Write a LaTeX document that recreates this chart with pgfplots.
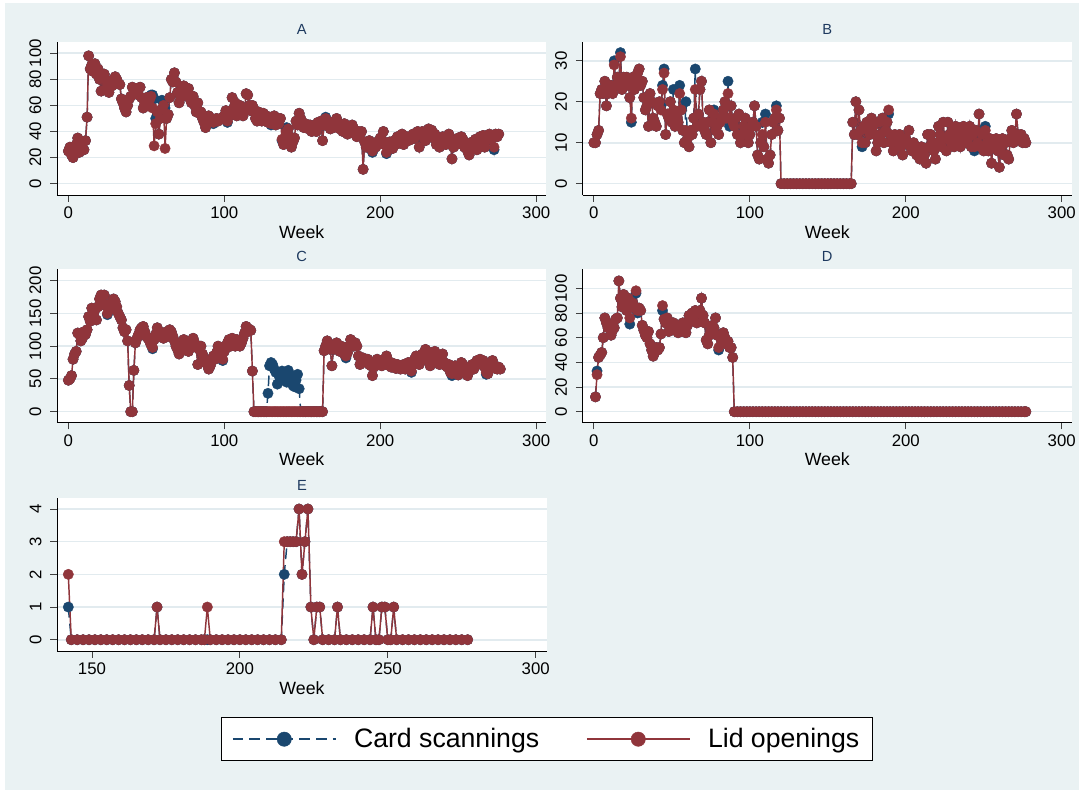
\documentclass[border=0pt]{standalone}
\usepackage{pgfplots}
\pgfplotsset{compat=1.18}
\usepackage{pgfplotstable}
\usepackage{fontspec}
\setmainfont{Liberation Sans}
\definecolor{bgc}{RGB}{234,242,243}
\definecolor{gridc}{RGB}{226,235,239}
\definecolor{navyc}{RGB}{26,71,111}
\definecolor{maroonc}{RGB}{144,53,59}
\definecolor{titc}{RGB}{30,58,95}
\pgfplotsset{
 panel/.style={
  scale only axis, width=367.1pt, height=115.1pt,
  axis x line=bottom, axis y line=left,
  axis line style={-, line width=0.7pt, black},
  tick align=outside, major tick length=5pt,
  tick style={line width=0.7pt, black!75},
  ymajorgrids, grid style={line width=1.2pt, gridc},
  axis background/.style={fill=white},
  ticklabel style={font=\fontsize{12.6}{14}\selectfont},
  yticklabel style={rotate=90, anchor=south, inner sep=0pt},
  xticklabel style={anchor=north, inner sep=0pt},
  xticklabel shift=3.5pt, yticklabel shift=6.5pt,
  /pgf/number format/assume math mode=true,
  scaled ticks=false,
  xlabel={Week},
  xlabel style={font=\fontsize{13.3}{15}\selectfont, at={(axis description cs:0.5,0)}, anchor=center, yshift=-27.5pt},
  every axis title shift=0pt,
  title style={font=\fontsize{11}{13}\selectfont, text=titc, at={(axis description cs:0.5,1)}, anchor=center, yshift=9.3pt},
  xmin=-7.3, xmax=306.6, xtick={0,100,200,300},
 },
 card/.style={navyc, line width=1.1pt, dash pattern=on 8pt off 4.5pt, mark=*, mark size=3.9pt, mark options={solid, fill=navyc, draw=navyc, line width=0.3pt}},
 lid/.style={maroonc, line width=1.1pt, solid, mark=*, mark size=3.9pt, mark options={solid, fill=maroonc, draw=maroonc, line width=0.3pt}},
}
% Panel A: week, card scannings, lid openings
\pgfplotstableread[row sep=\\]{w c l\\
0 25 25\\ 1 28 28\\ 2 22 22\\ 3 20 20\\ 4 27 27\\ 5 30 30\\ 6 35 35\\ 7 24 24\\ 8 28 28\\ 9 32 32\\
10 26 26\\ 11 33 33\\ 12 51 51\\ 13 98 98\\ 14 88 88\\ 15 91 91\\ 16 86 86\\ 17 92 92\\ 18 84 84\\ 19 88 88\\
20 80 80\\ 21 71 71\\ 22 82 82\\ 23 84 84\\ 24 72 72\\ 25 76 76\\ 26 70 70\\ 27 79 79\\ 28 75 75\\ 29 78 78\\
30 82 82\\ 31 80 80\\ 32 77 77\\ 33 76 76\\ 34 65 65\\ 35 62 62\\ 36 58 58\\ 37 55 55\\ 38 60 60\\ 39 65 65\\
40 67 67\\ 41 74 74\\ 42 72 72\\ 43 70 70\\ 44 73 73\\ 45 68 68\\ 46 74 74\\ 47 66 66\\ 48 58 58\\ 49 62 62\\
50 66 66\\ 51 60 60\\ 52 64 64\\ 53 68 67\\ 54 68 58\\ 55 65 29\\ 56 50 46\\ 57 55 55\\ 58 38 38\\ 59 50 50\\
60 64 57\\ 61 63 60\\ 62 58 27\\ 63 50 50\\ 64 53 53\\ 65 66 66\\ 66 80 80\\ 67 78 78\\ 68 85 85\\ 69 78 78\\
70 70 70\\ 71 62 62\\ 72 66 66\\ 73 73 73\\ 74 75 75\\ 75 70 70\\ 76 68 68\\ 77 73 73\\ 78 65 65\\ 79 62 62\\
80 67 67\\ 81 60 60\\ 82 55 55\\ 83 62 62\\ 84 54 54\\ 85 55 55\\ 86 50 50\\ 87 47 47\\ 88 43 43\\ 89 46 46\\
90 52 52\\ 91 48 48\\ 92 50 50\\ 93 46 47\\ 94 49 49\\ 95 50 50\\ 96 48 48\\ 97 49 49\\ 98 50 50\\ 99 51 51\\
100 52 52\\ 101 56 56\\ 102 47 48\\ 103 52 52\\ 104 55 55\\ 105 66 66\\ 106 58 58\\ 107 62 62\\ 108 52 52\\ 109 56 56\\
110 60 60\\ 111 55 55\\ 112 52 52\\ 113 58 58\\ 114 69 69\\ 115 68 68\\ 116 60 60\\ 117 56 56\\ 118 60 60\\ 119 57 57\\
120 50 50\\ 121 48 48\\ 122 55 55\\ 123 52 52\\ 124 48 48\\ 125 54 54\\ 126 50 50\\ 127 52 52\\ 128 47 47\\ 129 50 50\\
130 45 46\\ 131 48 48\\ 132 52 52\\ 133 45 45\\ 134 50 50\\ 135 46 46\\ 136 50 50\\ 137 33 34\\ 138 30 30\\ 139 35 35\\
140 43 40\\ 141 42 42\\ 142 36 36\\ 143 28 28\\ 144 32 32\\ 145 35 35\\ 146 48 48\\ 147 45 45\\ 148 54 54\\ 149 50 50\\
150 45 45\\ 151 43 43\\ 152 46 46\\ 153 44 44\\ 154 42 42\\ 155 45 45\\ 156 40 40\\ 157 42 42\\ 158 45 45\\ 159 40 40\\
160 47 47\\ 161 44 44\\ 162 48 48\\ 163 33 33\\ 164 45 45\\ 165 51 50\\ 166 46 46\\ 167 44 44\\ 168 42 42\\ 169 47 47\\
170 43 43\\ 171 46 46\\ 172 50 50\\ 173 45 45\\ 174 42 42\\ 175 44 44\\ 176 40 40\\ 177 46 46\\ 178 42 42\\ 179 38 38\\
180 44 44\\ 181 40 40\\ 182 45 45\\ 183 42 42\\ 184 38 38\\ 185 36 36\\ 186 40 40\\ 187 38 38\\ 188 40 40\\ 189 11 11\\
190 32 32\\ 191 28 28\\ 192 30 30\\ 193 33 33\\ 194 28 28\\ 195 24 25\\ 196 30 30\\ 197 28 28\\ 198 32 32\\ 199 30 30\\
200 35 35\\ 201 34 34\\ 202 40 40\\ 203 30 30\\ 204 23 24\\ 205 28 28\\ 206 32 32\\ 207 30 30\\ 208 27 27\\ 209 33 33\\
210 30 30\\ 211 36 36\\ 212 32 32\\ 213 35 35\\ 214 38 38\\ 215 30 30\\ 216 34 34\\ 217 36 36\\ 218 33 33\\ 219 36 36\\
220 34 34\\ 221 38 38\\ 222 35 35\\ 223 37 37\\ 224 40 40\\ 225 28 28\\ 226 38 38\\ 227 40 40\\ 228 35 35\\ 229 33 33\\
230 38 38\\ 231 42 42\\ 232 38 38\\ 233 41 41\\ 234 35 35\\ 235 38 38\\ 236 30 30\\ 237 33 33\\ 238 28 28\\ 239 34 34\\
240 36 36\\ 241 32 32\\ 242 30 30\\ 243 36 36\\ 244 38 38\\ 245 30 30\\ 246 19 19\\ 247 28 28\\ 248 33 33\\ 249 30 30\\
250 35 35\\ 251 32 32\\ 252 36 36\\ 253 34 34\\ 254 28 28\\ 255 30 30\\ 256 25 25\\ 257 22 22\\ 258 30 30\\ 259 32 32\\
260 28 28\\ 261 34 34\\ 262 26 26\\ 263 28 28\\ 264 36 36\\ 265 30 30\\ 266 37 37\\ 267 28 28\\ 268 33 33\\ 269 36 36\\
270 38 38\\ 271 34 34\\ 272 37 37\\ 273 26 28\\ 274 38 38\\ 275 36 36\\ 276 38 38\\
}\tA
% Panel B
\pgfplotstableread[row sep=\\]{w c l\\
0 10 10\\ 1 10 10\\ 2 12 12\\ 3 13 13\\ 4 22 22\\ 5 23 23\\ 6 22 22\\ 7 25 25\\ 8 19 19\\ 9 22 22\\
10 23 23\\ 11 24 24\\ 12 22 22\\ 13 30 29\\ 14 24 24\\ 15 26 26\\ 16 25 25\\ 17 32 31\\ 18 23 23\\ 19 26 26\\
20 25 25\\ 21 26 26\\ 22 24 24\\ 23 21 21\\ 24 15 16\\ 25 26 26\\ 26 23 23\\ 27 25 25\\ 28 27 27\\ 29 28 28\\
30 24 24\\ 31 25 25\\ 32 21 21\\ 33 18 18\\ 34 19 19\\ 35 14 14\\ 36 22 22\\ 37 20 20\\ 38 16 16\\ 39 15 15\\
40 14 14\\ 41 19 19\\ 42 20 20\\ 43 19 18\\ 44 24 23\\ 45 28 27\\ 46 12 12\\ 47 17 17\\ 48 16 16\\ 49 20 20\\
50 15 15\\ 51 23 18\\ 52 14 14\\ 53 17 17\\ 54 15 15\\ 55 24 22\\ 56 18 18\\ 57 13 13\\ 58 10 10\\ 59 20 13\\
60 11 11\\ 61 9 9\\ 62 13 13\\ 63 12 12\\ 64 16 16\\ 65 28 23\\ 66 14 14\\ 67 17 17\\ 68 23 23\\ 69 25 25\\
70 15 15\\ 71 13 13\\ 72 12 12\\ 73 15 15\\ 74 18 18\\ 75 10 10\\ 76 15 15\\ 77 18 17\\ 78 13 13\\ 79 14 14\\
80 12 12\\ 81 15 15\\ 82 16 16\\ 83 18 18\\ 84 20 20\\ 85 16 16\\ 86 25 22\\ 87 14 16\\ 88 19 19\\ 89 15 15\\
90 14 14\\ 91 16 16\\ 92 12 12\\ 93 17 17\\ 94 10 10\\ 95 12 12\\ 96 14 14\\ 97 16 16\\ 98 12 12\\ 99 10 10\\
100 12 12\\ 101 14 14\\ 102 15 15\\ 103 19 19\\ 104 14 14\\ 105 7 7\\ 106 6 6\\ 107 10 10\\ 108 15 12\\ 109 9 9\\
110 17 15\\ 111 6 6\\ 112 5 5\\ 113 7 7\\ 114 12 12\\ 115 15 15\\ 116 16 16\\ 117 19 18\\ 118 13 13\\ 119 16 16\\
120 0 0\\ 122 0 0\\ 124 0 0\\ 126 0 0\\ 128 0 0\\ 130 0 0\\ 132 0 0\\ 134 0 0\\ 136 0 0\\ 138 0 0\\
140 0 0\\ 142 0 0\\ 144 0 0\\ 146 0 0\\ 148 0 0\\ 150 0 0\\ 152 0 0\\ 154 0 0\\ 156 0 0\\ 158 0 0\\
160 0 0\\ 162 0 0\\ 164 0 0\\ 165 0 0\\
166 15 15\\ 167 12 12\\ 168 20 20\\ 169 12 12\\ 170 18 18\\ 171 13 13\\ 172 9 10\\ 173 14 14\\ 174 10 10\\ 175 15 15\\
176 13 13\\ 177 12 12\\ 178 16 16\\ 179 14 14\\ 180 12 12\\ 181 8 8\\ 182 10 10\\ 183 15 15\\ 184 12 12\\ 185 16 16\\
186 10 10\\ 187 13 13\\ 188 15 15\\ 189 17 18\\ 190 12 12\\ 191 10 10\\ 192 8 8\\ 193 12 12\\ 194 11 11\\ 195 10 10\\
196 12 12\\ 197 9 9\\ 198 7 7\\ 199 10 10\\
200 11 11\\ 201 10 10\\ 202 13 13\\ 203 9 9\\ 204 8 8\\ 205 10 10\\ 206 9 9\\ 207 7 7\\ 208 8 8\\ 209 6 6\\
210 9 9\\ 211 8 8\\ 212 7 7\\ 213 5 5\\ 214 12 12\\ 215 9 9\\ 216 12 12\\ 217 10 10\\ 218 8 8\\ 219 6 6\\
220 10 10\\ 221 14 14\\ 222 12 12\\ 223 9 9\\ 224 15 15\\ 225 11 11\\ 226 8 8\\ 227 15 15\\ 228 12 12\\ 229 10 10\\
230 13 13\\ 231 9 9\\ 232 14 14\\ 233 11 11\\ 234 13 13\\ 235 9 9\\ 236 12 12\\ 237 14 14\\ 238 10 10\\ 239 13 13\\
240 11 11\\ 241 14 14\\ 242 9 9\\ 243 12 12\\ 244 8 9\\ 245 13 13\\ 246 10 10\\ 247 17 17\\ 248 9 9\\ 249 12 12\\
250 8 8\\ 251 14 13\\ 252 10 10\\ 253 8 8\\ 254 11 11\\ 255 5 5\\ 256 10 10\\ 257 9 9\\ 258 11 11\\ 259 8 8\\
260 4 4\\ 261 9 9\\ 262 11 11\\ 263 7 7\\ 264 10 10\\ 265 7 7\\ 266 6 6\\ 267 11 11\\ 268 13 13\\ 269 10 10\\
270 12 12\\ 271 17 17\\ 272 12 12\\ 273 11 11\\ 274 12 12\\ 275 10 10\\ 276 11 11\\ 277 10 10\\
}\tB
% Panel C
\pgfplotstableread[row sep=\\]{w c l\\
0 48 48\\ 1 50 50\\ 2 55 55\\ 3 80 80\\ 4 88 88\\ 5 92 92\\ 6 120 120\\ 7 118 118\\ 8 108 108\\ 9 112 112\\
10 122 122\\ 11 118 118\\ 12 125 125\\ 13 145 145\\ 14 138 138\\ 15 158 158\\ 16 148 148\\ 17 155 155\\ 18 140 140\\ 19 160 160\\
20 172 172\\ 21 178 178\\ 22 165 165\\ 23 178 178\\ 24 162 162\\ 25 148 150\\ 26 160 160\\ 27 165 165\\ 28 158 158\\ 29 172 172\\
30 168 168\\ 31 160 160\\ 32 150 150\\ 33 145 145\\ 34 140 140\\ 35 128 128\\ 36 122 122\\ 37 125 125\\ 38 108 108\\ 39 40 40\\
40 0 0\\ 41 0 0\\ 42 63 63\\ 43 105 105\\ 44 112 112\\ 45 118 118\\ 46 125 125\\ 47 128 128\\ 48 130 130\\ 49 122 122\\
50 115 115\\ 51 112 112\\ 52 108 108\\ 53 102 102\\ 54 96 98\\ 55 110 110\\ 56 118 118\\ 57 128 128\\ 58 122 122\\ 59 115 115\\
60 118 118\\ 61 112 112\\ 62 118 118\\ 63 122 122\\ 64 115 115\\ 65 125 125\\ 66 122 122\\ 67 115 115\\ 68 108 108\\ 69 100 100\\
70 95 95\\ 71 88 88\\ 72 92 92\\ 73 100 100\\ 74 110 110\\ 75 105 105\\ 76 98 98\\ 77 92 92\\ 78 100 100\\ 79 108 108\\
80 112 112\\ 81 105 105\\ 82 98 98\\ 83 72 72\\ 84 95 95\\ 85 100 100\\ 86 88 88\\ 87 80 80\\ 88 75 75\\ 89 72 72\\
90 65 65\\ 91 70 70\\ 92 78 78\\ 93 85 85\\ 94 80 80\\ 95 90 90\\ 96 100 100\\ 97 95 95\\ 98 85 85\\ 99 78 80\\
100 92 92\\ 101 100 100\\ 102 105 105\\ 103 110 110\\ 104 100 100\\ 105 112 112\\ 106 105 105\\ 107 100 100\\ 108 110 110\\ 109 108 108\\
110 100 100\\ 111 105 105\\ 112 112 112\\ 113 120 120\\ 114 130 130\\ 115 122 122\\ 116 126 126\\ 117 124 124\\ 118 62 62\\ 119 0 0\\
120 0 0\\ 121 0 0\\ 122 0 0\\ 123 0 0\\ 124 0 0\\ 125 0 0\\ 126 0 0\\ 127 0 0\\ 128 28 0\\ 129 70 0\\
130 75 0\\ 131 72 0\\ 132 65 0\\ 133 60 0\\ 134 42 0\\ 135 55 0\\ 136 50 0\\ 137 62 0\\ 138 48 0\\ 139 55 0\\
140 45 0\\ 141 63 0\\ 142 50 0\\ 143 55 0\\ 144 40 0\\ 145 38 0\\ 146 48 0\\ 147 57 0\\ 148 35 0\\ 149 0 0\\
150 0 0\\ 151 0 0\\ 152 0 0\\ 153 0 0\\ 154 0 0\\ 155 0 0\\ 156 0 0\\ 157 0 0\\ 158 0 0\\ 159 0 0\\
160 0 0\\ 161 0 0\\ 162 0 0\\ 163 0 0\\
164 93 93\\ 165 100 100\\ 166 108 108\\ 167 102 102\\ 168 95 95\\ 169 70 70\\ 170 95 95\\ 171 100 100\\ 172 105 105\\ 173 98 98\\
174 92 92\\ 175 100 100\\ 176 95 95\\ 177 88 88\\ 178 82 85\\ 179 90 90\\ 180 100 100\\ 181 110 110\\ 182 105 105\\ 183 100 100\\
184 105 105\\ 185 100 100\\ 186 85 85\\ 187 72 72\\ 188 80 80\\ 189 82 82\\ 190 78 78\\ 191 75 75\\ 192 80 80\\ 193 72 72\\
194 70 70\\ 195 55 55\\ 196 68 68\\ 197 75 75\\ 198 80 80\\ 199 72 72\\ 200 78 78\\ 201 70 70\\ 202 75 75\\ 203 80 80\\
204 85 85\\ 205 78 78\\ 206 70 70\\ 207 68 68\\ 208 74 74\\ 209 70 70\\ 210 66 66\\ 211 72 72\\ 212 70 70\\ 213 65 65\\
214 68 68\\ 215 72 72\\ 216 65 65\\ 217 70 70\\ 218 75 75\\ 219 68 68\\ 220 60 62\\ 221 72 72\\ 222 80 80\\ 223 85 85\\
224 78 78\\ 225 72 72\\ 226 85 85\\ 227 88 88\\ 228 80 80\\ 229 95 95\\ 230 92 92\\ 231 85 85\\ 232 70 70\\ 233 78 78\\
234 90 90\\ 235 92 92\\ 236 85 85\\ 237 78 78\\ 238 72 72\\ 239 80 80\\ 240 88 88\\ 241 75 75\\ 242 70 70\\ 243 68 68\\
244 72 72\\ 245 60 60\\ 246 55 58\\ 247 65 65\\ 248 70 70\\ 249 62 62\\ 250 56 56\\ 251 68 68\\ 252 75 75\\ 253 72 72\\
254 65 65\\ 255 60 60\\ 256 55 55\\ 257 62 62\\ 258 68 68\\ 259 72 72\\ 260 65 65\\ 261 70 70\\ 262 78 78\\ 263 75 75\\
264 80 80\\ 265 72 72\\ 266 78 78\\ 267 68 68\\ 268 57 60\\ 269 58 58\\ 270 65 65\\ 271 72 72\\ 272 78 78\\ 273 70 70\\
274 66 66\\ 275 65 65\\ 276 68 68\\ 277 65 65\\
}\tC
% Panel D
\pgfplotstableread[row sep=\\]{w c l\\
1 12 12\\ 2 33 30\\ 3 44 44\\ 4 46 46\\ 5 48 48\\ 6 60 60\\ 7 76 76\\ 8 72 72\\ 9 68 68\\
10 70 70\\ 11 62 62\\ 12 66 66\\ 13 68 68\\ 14 75 75\\ 15 76 76\\ 16 106 106\\ 17 92 92\\ 18 85 85\\ 19 95 95\\
20 88 88\\ 21 82 82\\ 22 92 92\\ 23 71 76\\ 24 85 85\\ 25 88 88\\ 26 84 84\\ 27 96 98\\ 28 80 82\\ 29 84 84\\
30 82 82\\ 31 70 70\\ 32 66 66\\ 33 62 62\\ 34 60 60\\ 35 65 65\\ 36 55 55\\ 37 50 50\\ 38 45 45\\ 39 48 48\\
40 52 52\\ 41 50 50\\ 42 52 52\\ 43 63 63\\ 44 82 86\\ 45 75 75\\ 46 72 72\\ 47 76 76\\ 48 65 65\\ 49 70 70\\
50 68 68\\ 51 72 72\\ 52 66 66\\ 53 70 70\\ 54 64 64\\ 55 68 68\\ 56 70 70\\ 57 72 72\\ 58 66 66\\ 59 64 64\\
60 70 70\\ 61 78 78\\ 62 75 75\\ 63 80 80\\ 64 74 74\\ 65 82 82\\ 66 72 72\\ 67 80 80\\ 68 82 82\\ 69 92 92\\
70 78 78\\ 71 72 72\\ 72 58 58\\ 73 55 55\\ 74 62 62\\ 75 66 66\\ 76 70 70\\ 77 68 68\\ 78 76 76\\ 79 62 62\\
80 50 52\\ 81 60 60\\ 82 56 56\\ 83 64 64\\ 84 60 60\\ 85 55 55\\ 86 57 57\\ 87 52 52\\ 88 52 52\\ 89 44 44\\
90 0 0\\ 92 0 0\\ 94 0 0\\ 96 0 0\\ 98 0 0\\ 100 0 0\\ 102 0 0\\ 104 0 0\\ 106 0 0\\ 108 0 0\\
110 0 0\\ 112 0 0\\ 114 0 0\\ 116 0 0\\ 118 0 0\\ 120 0 0\\ 122 0 0\\ 124 0 0\\ 126 0 0\\ 128 0 0\\
130 0 0\\ 132 0 0\\ 134 0 0\\ 136 0 0\\ 138 0 0\\ 140 0 0\\ 142 0 0\\ 144 0 0\\ 146 0 0\\ 148 0 0\\
150 0 0\\ 152 0 0\\ 154 0 0\\ 156 0 0\\ 158 0 0\\ 160 0 0\\ 162 0 0\\ 164 0 0\\ 166 0 0\\ 168 0 0\\
170 0 0\\ 172 0 0\\ 174 0 0\\ 176 0 0\\ 178 0 0\\ 180 0 0\\ 182 0 0\\ 184 0 0\\ 186 0 0\\ 188 0 0\\
190 0 0\\ 192 0 0\\ 194 0 0\\ 196 0 0\\ 198 0 0\\ 200 0 0\\ 202 0 0\\ 204 0 0\\ 206 0 0\\ 208 0 0\\
210 0 0\\ 212 0 0\\ 214 0 0\\ 216 0 0\\ 218 0 0\\ 220 0 0\\ 222 0 0\\ 224 0 0\\ 226 0 0\\ 228 0 0\\
230 0 0\\ 232 0 0\\ 234 0 0\\ 236 0 0\\ 238 0 0\\ 240 0 0\\ 242 0 0\\ 244 0 0\\ 246 0 0\\ 248 0 0\\
250 0 0\\ 252 0 0\\ 254 0 0\\ 256 0 0\\ 258 0 0\\ 260 0 0\\ 262 0 0\\ 264 0 0\\ 266 0 0\\ 268 0 0\\
270 0 0\\ 272 0 0\\ 274 0 0\\ 276 0 0\\ 277 0 0\\
}\tD
% Panel E
\pgfplotstableread[row sep=\\]{w c l\\
142 1 2\\ 143 0 0\\ 145 0 0\\ 147 0 0\\ 149 0 0\\ 151 0 0\\ 153 0 0\\ 155 0 0\\ 157 0 0\\ 159 0 0\\
161 0 0\\ 163 0 0\\ 165 0 0\\ 167 0 0\\ 169 0 0\\ 171 0 0\\ 172 1 1\\ 173 0 0\\ 175 0 0\\ 177 0 0\\
179 0 0\\ 181 0 0\\ 183 0 0\\ 185 0 0\\ 187 0 0\\ 188 0 0\\ 189 0 1\\ 190 0 0\\ 192 0 0\\ 194 0 0\\
196 0 0\\ 198 0 0\\ 200 0 0\\ 202 0 0\\ 204 0 0\\ 206 0 0\\ 208 0 0\\ 210 0 0\\ 212 0 0\\ 214 0 0\\
215 2 3\\ 216 3 3\\ 217 3 3\\ 218 3 3\\ 219 3 3\\ 220 4 4\\ 221 2 2\\ 222 3 3\\ 223 4 4\\ 224 1 1\\
225 0 0\\ 226 1 1\\ 227 1 1\\ 228 0 0\\ 230 0 0\\ 232 0 0\\ 233 1 1\\ 234 0 0\\ 236 0 0\\ 238 0 0\\
240 0 0\\ 242 0 0\\ 244 0 0\\ 245 1 1\\ 246 0 0\\ 247 0 0\\ 248 1 1\\ 249 1 1\\ 250 0 0\\ 251 0 0\\
252 1 1\\ 253 0 0\\ 255 0 0\\ 257 0 0\\ 259 0 0\\ 261 0 0\\ 263 0 0\\ 265 0 0\\ 267 0 0\\ 269 0 0\\
271 0 0\\ 273 0 0\\ 275 0 0\\ 277 0 0\\
}\tE
\begin{document}
\begin{tikzpicture}
\fill[white] (0pt,0pt) rectangle (809.25pt,-592.5pt);
\fill[bgc] (3.75pt,-2.25pt) rectangle (809.25pt,-592.5pt);
% A
\begin{axis}[panel, at={(42.75pt,-146.25pt)}, anchor=south west, title={A},
  ymin=-8.7, ymax=109, ytick={0,20,40,60,80,100}]
\addplot[card] table[x=w,y=c]{\tA};
\addplot[lid] table[x=w,y=l]{\tA};
\end{axis}
% B
\begin{axis}[panel, at={(436.9pt,-146.25pt)}, anchor=south west, title={B},
  ymin=-2.77, ymax=34.7, ytick={0,10,20,30}]
\addplot[card] table[x=w,y=c]{\tB};
\addplot[lid] table[x=w,y=l]{\tB};
\end{axis}
% C
\begin{axis}[panel, at={(42.75pt,-317.0pt)}, anchor=south west, title={C},
  ymin=-16.8, ymax=217.4, ytick={0,50,100,150,200}]
\addplot[card] table[x=w,y=c]{\tC};
\addplot[lid] table[x=w,y=l]{\tC};
\end{axis}
% D
\begin{axis}[panel, at={(436.9pt,-317.0pt)}, anchor=south west, title={D},
  ymin=-8.9, ymax=115.5, ytick={0,20,40,60,80,100}]
\addplot[card] table[x=w,y=c]{\tD};
\addplot[lid] table[x=w,y=l]{\tD};
\end{axis}
% E
\begin{axis}[panel, at={(42.8pt,-488.25pt)}, anchor=south west, title={E},
  width=367.4pt, xmin=138.2, xmax=303.8, xtick={150,200,250,300},
  ymin=-0.345, ymax=4.35, ytick={0,1,2,3,4},
  legend columns=2,
  legend style={at={(1,-0.5745)}, anchor=center, draw=black, line width=0.8pt, fill=white,
    font=\fontsize{20}{24}\selectfont, inner xsep=8pt, inner ysep=6pt,
    /tikz/every odd column/.append style={column sep=11pt},
    /tikz/every even column/.append style={column sep=33pt}},
  legend cell align=left,
  legend image code/.code={\draw[mark repeat=2,mark phase=2,#1,line width=1.25pt,mark size=5.4pt] plot coordinates {(0pt,0pt) (38.6pt,0pt) (77.3pt,0pt)};}]
\addplot[card] table[x=w,y=c]{\tE};
\addlegendentry{Card scannings}
\addplot[lid] table[x=w,y=l]{\tE};
\addlegendentry{Lid openings}
\end{axis}
\end{tikzpicture}
\end{document}
